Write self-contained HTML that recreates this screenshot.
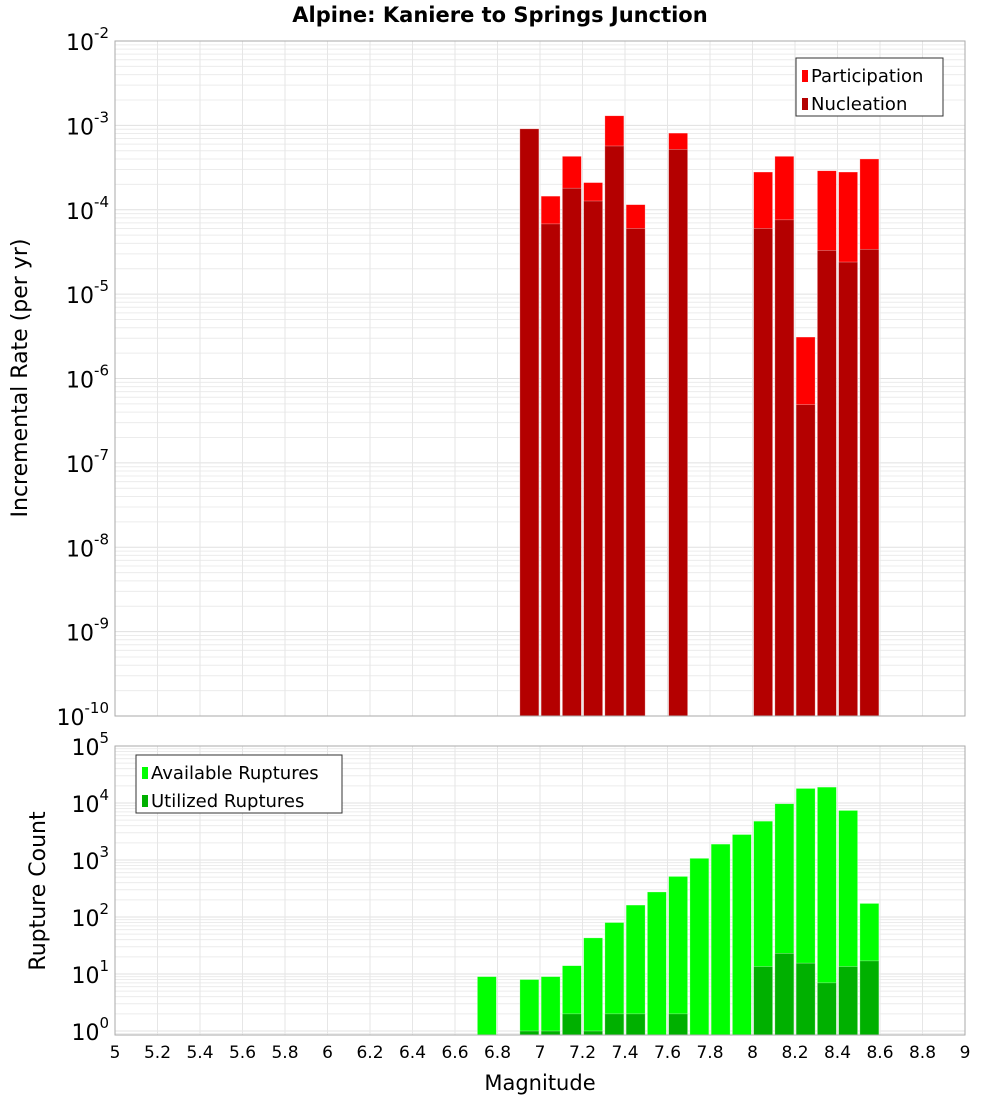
<!DOCTYPE html>
<html><head><meta charset="utf-8"><style>
body{margin:0;background:#fff;font-family:"Liberation Sans",sans-serif}
svg text{font-family:"DejaVu Sans","Liberation Sans",sans-serif}
</style></head><body>
<svg id="c" width="1000" height="1100">
<text x="500" y="22" text-anchor="middle" font-size="21" font-weight="bold">Alpine: Kaniere to Springs Junction</text>
<g id="grid"></g><g id="bars"></g><g id="axes"></g>
</svg>
<script>
const rateMags=[6.95,7.05,7.15,7.25,7.35,7.45,7.65,8.05,8.15,8.25,8.35,8.45,8.55];
const participation=[9.1e-4,1.45e-4,4.3e-4,2.1e-4,1.3e-3,1.15e-4,8.1e-4,2.8e-4,4.3e-4,3.1e-6,2.9e-4,2.8e-4,4.0e-4];
const nucleation=[9.1e-4,6.8e-5,1.8e-4,1.27e-4,5.7e-4,6.0e-5,5.2e-4,6.0e-5,7.6e-5,4.9e-7,3.3e-5,2.4e-5,3.4e-5];
const countMags=[6.75,6.95,7.05,7.15,7.25,7.35,7.45,7.55,7.65,7.75,7.85,7.95,8.05,8.15,8.25,8.35,8.45,8.55];
const available=[9,8,9,14,43,80,162,275,515,1070,1900,2800,4800,9700,18000,19000,7400,173];
const utilized=[0,1,1,2,1,2,2,0,2,0,0,0,13.5,23,15.5,7,13.5,17];
const xTicks=[5,5.2,5.4,5.6,5.8,6,6.2,6.4,6.6,6.8,7,7.2,7.4,7.6,7.8,8,8.2,8.4,8.6,8.8,9];
const rateExps=[-2,-3,-4,-5,-6,-7,-8,-9,-10];
const countExps=[5,4,3,2,1,0];

const NS="http://www.w3.org/2000/svg";
const L=115,R=965;
const T1=41,B1=716,T2=746,B2=1035;
const x=m=>L+(m-5)*(R-L)/4;
const y1=v=>T1+(-2-Math.log10(v))*(B1-T1)/8;
const y2=v=>T2+(5-Math.log10(v))*57;
function mk(tag,at,parent,txt){const e=document.createElementNS(NS,tag);for(const k in at)e.setAttribute(k,at[k]);if(txt!==undefined)e.textContent=txt;parent.appendChild(e);return e;}
const G=document.getElementById('grid'),B=document.getElementById('bars'),A=document.getElementById('axes');

function panel(top,bot,yf,lo,hi){
  for(let d=lo;d<hi;d++)for(let k=1;k<10;k++){const yy=yf(k*Math.pow(10,d));if(yy<top||yy>bot)continue;
    const ln=mk('line',{x1:L,x2:R,y1:yy,y2:yy,stroke:k==1?'#e0e0e0':'#ececec','stroke-width':1},G);
    
    }
  xTicks.forEach(t=>{const ln=mk('line',{x1:x(t),x2:x(t),y1:top,y2:bot,stroke:'#e6e6e6'},G);
    
    });
  const fr=mk('rect',{x:L,y:top,width:R-L,height:bot-top,fill:'none',stroke:'#aaa'},A);
  
  
}
panel(T1,B1,y1,-10,-2);
panel(T2,B2,y2,-1,5);

const bw=19;
function bar(m,top,bot,fill,name){const r=mk('rect',{x:x(m)-bw/2,y:top,width:bw,height:Math.max(0,bot-top),fill:fill,stroke:'#ffffff','stroke-opacity':0.5,'stroke-width':0.6},B);
  
  }
rateMags.forEach((m,i)=>{bar(m,y1(participation[i]),B1,'#ff0000','participation-bar');bar(m,y1(nucleation[i]),B1,'#b40000','nucleation-bar');});
countMags.forEach((m,i)=>{bar(m,y2(available[i]),B2,'#00ff00','available-bar');if(utilized[i]>0)bar(m,y2(utilized[i]),B2,'#00b000','utilized-bar');});

function expLabel(yy,e,name){const t=mk('text',{x:L-6,y:yy+9,'text-anchor':'end','font-size':22},A);
  
  
  mk('tspan',{},t,'10');mk('tspan',{dy:-12,'font-size':15},t,String(e));}
rateExps.forEach(e=>expLabel(y1(Math.pow(10,e)),e,'y-tick-label'));
countExps.forEach(e=>expLabel(y2(Math.pow(10,e)),e,'count-tick-label'));
xTicks.forEach(t=>{const tx=mk('text',{x:x(t),y:1058,'text-anchor':'middle','font-size':17},A,String(t));
  
  });

function legend(lx,ly,w,items,name){const g=mk('g',{},A);
  mk('rect',{x:lx,y:ly,width:w,height:58,fill:'#fff',stroke:'#333'},g);
  items.forEach((it,i)=>{mk('rect',{x:lx+6,y:ly+12+i*28,width:6,height:12,fill:it[1]},g);
    mk('text',{x:lx+15,y:ly+24+i*28,'font-size':18},g,it[0]);});}
legend(796,58,147,[['Participation','#ff0000'],['Nucleation','#b40000']],'rate-legend');
legend(136,755,206,[['Available Ruptures','#00ff00'],['Utilized Ruptures','#00b000']],'count-legend');

let t=mk('text',{x:540,y:1090,'text-anchor':'middle','font-size':21},A,'Magnitude');
t=mk('text',{x:0,y:0,transform:'translate(27,378) rotate(-90)','text-anchor':'middle','font-size':22},A,'Incremental Rate (per yr)');
t=mk('text',{x:0,y:0,transform:'translate(45,891) rotate(-90)','text-anchor':'middle','font-size':22},A,'Rupture Count');
</script>
</body></html>
